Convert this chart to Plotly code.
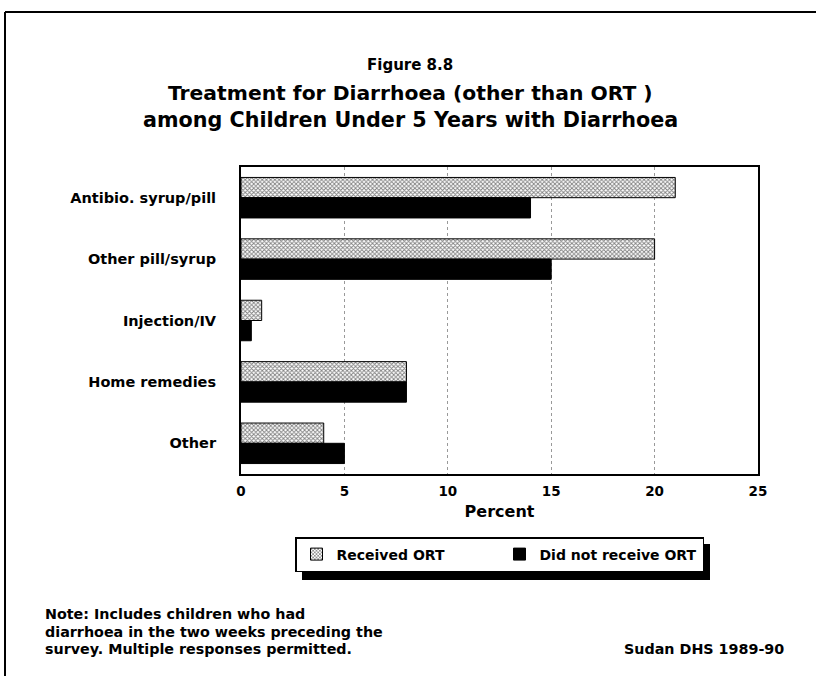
import plotly.graph_objects as go

# data (percent)
categories = ['Antibio. syrup/pill', 'Other pill/syrup', 'Injection/IV', 'Home remedies', 'Other']
received_ort = [21, 20, 1, 8, 4]
no_ort = [14, 15, 0.5, 8, 5]
x_ticks = [0, 5, 10, 15, 20, 25]

note_lines = ['Note: Includes children who had',
              'diarrhoea in the two weeks preceding the',
              'survey. Multiple responses permitted.']

W, H = 816, 676
L, R, T, B = 241, 758, 167, 474   # plot area in pixels
FONT = 'DejaVu Sans'


def xp(px):
    return (px - L) / (R - L)


def yp(py):
    return (B - py) / (B - T)


fig = go.Figure()
fig.add_trace(go.Bar(
    y=categories, x=received_ort, orientation='h', name='<b>Received ORT</b>',
    marker=dict(color='white', line=dict(color='black', width=1),
                pattern=dict(shape='x', size=3, solidity=0.5, fgcolor='black', bgcolor='white'))))
fig.add_trace(go.Bar(
    y=categories, x=no_ort, orientation='h', name='<b>Did not receive ORT</b>',
    marker=dict(color='black', line=dict(color='black', width=1))))

fig.update_layout(
    width=W, height=H,
    margin=dict(l=L, r=W - R, t=T, b=H - B),
    paper_bgcolor='white', plot_bgcolor='white',
    font=dict(family=FONT, color='black', size=13),
    barmode='group', bargap=0.34, bargroupgap=0,
    showlegend=True,
    legend=dict(orientation='h', x=xp(295), y=yp(537), xanchor='left', yanchor='top',
                bgcolor='white', bordercolor='black', borderwidth=1.5,
                font=dict(size=14, family=FONT), entrywidth=158, itemwidth=30,
                traceorder='normal'),
)

fig.update_xaxes(range=[0, 25], tickvals=x_ticks, ticktext=[f'<b>{v}</b>' for v in x_ticks],
                 showline=True, linecolor='black', linewidth=2, mirror=True,
                 showgrid=True, gridcolor='#999', griddash='dot', gridwidth=1,
                 zeroline=False, ticks='', tickfont=dict(size=13.5), ticklabelstandoff=4,
                 title=dict(text='<b>Percent</b>', font=dict(size=16), standoff=8))
fig.update_yaxes(autorange='reversed', categoryorder='array', categoryarray=categories,
                 tickvals=categories, ticktext=[f'<b>{c}</b>' for c in categories],
                 showline=True, linecolor='black', linewidth=2, mirror=True,
                 showgrid=False, ticks='', ticklabelstandoff=20, tickfont=dict(size=14.5))

# titles
fig.add_annotation(text='<b>Figure 8.8</b>', x=xp(410), y=yp(65), xref='paper', yref='paper',
                   xanchor='center', yanchor='middle', showarrow=False, font=dict(size=15))
fig.add_annotation(text='<b>Treatment for Diarrhoea (other than ORT )</b>', x=xp(410), y=yp(93),
                   xref='paper', yref='paper', xanchor='center', yanchor='middle',
                   showarrow=False, font=dict(size=20.3))
fig.add_annotation(text='<b>among Children Under 5 Years with Diarrhoea</b>', x=xp(410), y=yp(120),
                   xref='paper', yref='paper', xanchor='center', yanchor='middle',
                   showarrow=False, font=dict(size=20.7))

# notes
for line, ypx in zip(note_lines, [614, 632, 649]):
    fig.add_annotation(text=f'<b>{line}</b>', x=xp(43), y=yp(ypx), xref='paper', yref='paper',
                       xanchor='left', yanchor='middle', showarrow=False, font=dict(size=14.3))
fig.add_annotation(text='<b>Sudan DHS 1989-90</b>', x=xp(786), y=yp(649), xref='paper', yref='paper',
                   xanchor='right', yanchor='middle', showarrow=False, font=dict(size=14.3))

# legend drop shadow and page frame
fig.add_shape(type='rect', xref='paper', yref='paper', x0=xp(302), x1=xp(710), y0=yp(544), y1=yp(580),
              fillcolor='black', line=dict(width=0), layer='below')
fig.add_shape(type='line', xref='paper', yref='paper', x0=xp(5), x1=xp(816), y0=yp(12), y1=yp(12),
              line=dict(color='black', width=2))
fig.add_shape(type='line', xref='paper', yref='paper', x0=xp(5), x1=xp(5), y0=yp(12), y1=yp(676),
              line=dict(color='black', width=2))

fig.write_html('out.html', config={'displayModeBar': False},
               post_script="document.body.style.margin='0';")
